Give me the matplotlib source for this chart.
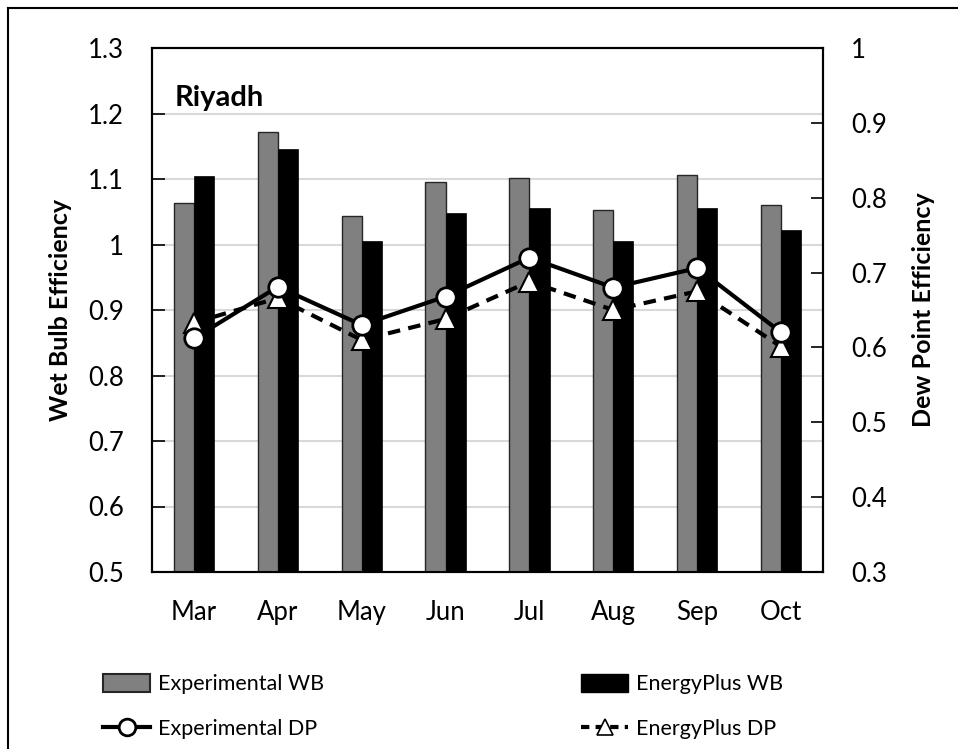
import matplotlib
matplotlib.use("Agg")
import matplotlib.pyplot as plt
from matplotlib.lines import Line2D
from matplotlib.patches import Patch
import numpy as np

plt.rcParams["font.family"] = ["Lato", "DejaVu Sans"]

months = ["Mar", "Apr", "May", "Jun", "Jul", "Aug", "Sep", "Oct"]
exp_wb = [1.063, 1.171, 1.044, 1.095, 1.101, 1.053, 1.106, 1.060]
ep_wb = [1.104, 1.146, 1.006, 1.048, 1.056, 1.006, 1.055, 1.022]
exp_dp = [0.612, 0.681, 0.630, 0.668, 0.720, 0.680, 0.706, 0.620]
ep_dp = [0.633, 0.666, 0.610, 0.638, 0.688, 0.650, 0.675, 0.601]

left_ticks = [0.5, 0.6, 0.7, 0.8, 0.9, 1.0, 1.1, 1.2, 1.3]
left_labels = ["0.5", "0.6", "0.7", "0.8", "0.9", "1", "1.1", "1.2", "1.3"]
right_ticks = [0.3, 0.4, 0.5, 0.6, 0.7, 0.8, 0.9, 1.0]
right_labels = ["0.3", "0.4", "0.5", "0.6", "0.7", "0.8", "0.9", "1"]

W, H = 958, 749
fig = plt.figure(figsize=(W / 100, H / 100), dpi=100)
ax = fig.add_axes([152 / W, 1 - 572 / H, (823 - 152) / W, (572 - 48) / H])
ax2 = ax.twinx()

x = np.arange(len(months))
bw = 0.24
grey = "#808080"

ax.bar(x - bw / 2, exp_wb, bw, color=grey, edgecolor="#262626", linewidth=1.0, zorder=3)
ax.bar(x + bw / 2, ep_wb, bw, color="black", edgecolor="black", linewidth=0.5, zorder=3)

ax.set_ylim(0.5, 1.3)
ax.set_xlim(-0.5, len(months) - 0.5)
ax.set_yticks(left_ticks)
ax.set_yticklabels(left_labels)
ax.set_xticks(x)
ax.set_xticklabels(months)
ax.yaxis.grid(True, color="#d9d9d9", linewidth=1.5, zorder=0)
ax.set_axisbelow(True)
ax.tick_params(axis="y", direction="in", length=9, width=1.2, pad=20, labelsize=18.5)
ax.tick_params(axis="x", length=0, pad=20, labelsize=18.5)
ax.set_ylabel("Wet Bulb Efficiency", fontsize=18, fontweight="bold", labelpad=12)

ax2.plot(x, exp_dp, "-o", color="black", linewidth=3, markersize=14,
         markerfacecolor="white", markeredgecolor="black", markeredgewidth=2, zorder=5)
ax2.plot(x, ep_dp, "--^", color="black", linewidth=3, dashes=(3, 2), markersize=15,
         markerfacecolor="white", markeredgecolor="black", markeredgewidth=1.5, zorder=4)
ax2.set_ylim(0.3, 1.0)
ax2.set_yticks(right_ticks)
ax2.set_yticklabels(right_labels)
ax2.tick_params(axis="y", direction="in", length=9, width=1.2, pad=20, labelsize=18.5)
ax2.set_ylabel("Dew Point Efficiency", fontsize=18, fontweight="bold", labelpad=18)

for a in (ax, ax2):
    for s in a.spines.values():
        s.set_linewidth(1.5)
        s.set_color("black")

ax.text(0.034, 0.905, "Riyadh", transform=ax.transAxes, fontsize=21,
        fontweight="bold", va="center", ha="left")

# legend, two columns placed separately
h_exp_wb = Patch(facecolor=grey, edgecolor="#262626", linewidth=1.5)
h_ep_wb = Patch(facecolor="black", edgecolor="black")
h_exp_dp = Line2D([], [], color="black", linewidth=3, marker="o", markersize=12,
                  markerfacecolor="white", markeredgewidth=2)
h_ep_dp = Line2D([], [], color="black", linewidth=3, linestyle="--", dashes=(2, 1.5),
                 marker="^", markersize=12, markerfacecolor="white", markeredgewidth=1.2)

common = dict(frameon=False, fontsize=15.5, handlelength=2.2, handleheight=0.9,
              handletextpad=0.35, labelspacing=1.15, loc="upper left", borderpad=0,
              borderaxespad=0)
leg1 = fig.legend([h_exp_wb, h_exp_dp], ["Experimental WB", "Experimental DP"],
                  bbox_to_anchor=(103 / W, 1 - 674 / H), **common)
leg2 = fig.legend([h_ep_wb, h_ep_dp], ["EnergyPlus WB", "EnergyPlus DP"],
                  bbox_to_anchor=(581 / W, 1 - 674 / H), **common)

# outer chart border (left and top visible)
fig.add_artist(Line2D([8 / W, 8 / W], [0, 1 - 7.5 / H], color="black", linewidth=1.5))
fig.add_artist(Line2D([8 / W, 1], [1 - 7.5 / H, 1 - 7.5 / H], color="black", linewidth=1.5))

fig.savefig("out.png", dpi=100)
